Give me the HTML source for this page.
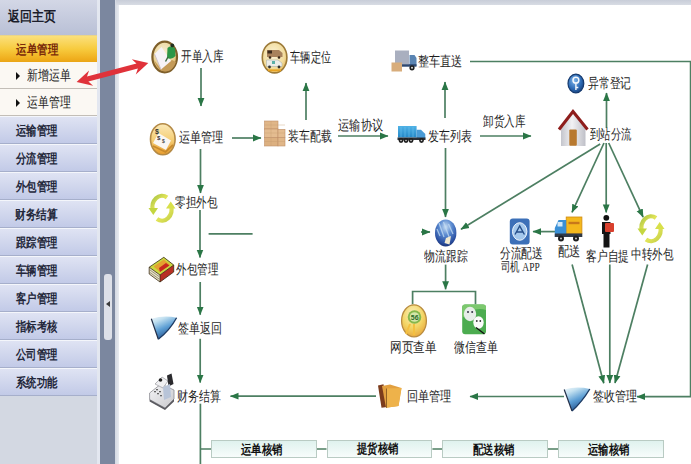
<!DOCTYPE html>
<html><head><meta charset="utf-8">
<style>
*{margin:0;padding:0;box-sizing:border-box}
html,body{width:691px;height:464px;overflow:hidden;background:#fff;font-family:"Liberation Sans",sans-serif}
#side{position:absolute;left:0;top:0;width:100px;height:464px;background:#d3d8e2}
#home{position:absolute;left:0;top:0;width:97px;height:35px;background:linear-gradient(#d3d7e6,#b9c0d6)}
#hdr{position:absolute;left:0;top:34.5px;width:98px;height:27.5px;border-top:1px solid #e9d48a;background:linear-gradient(#fbe07c,#f7cb3e 50%,#f0b020 85%,#eaa516)}
.sub{position:absolute;left:0;width:97px;height:27px;background:#fbf8f3;border-bottom:1.5px solid #c3beb7}
.sub i{position:absolute;left:15.5px;top:10px;width:0;height:0;border-left:4px solid #111;border-top:4px solid transparent;border-bottom:4px solid transparent}
.it{position:absolute;left:0;width:97px;height:28px;background:linear-gradient(#dfe3f3,#c2cae7);border-top:1px solid #f4f6fb;border-bottom:1px solid #a6afcb}
#sline{position:absolute;left:97px;top:0;width:3px;height:464px;background:#e3e7f0}
#band{position:absolute;left:100px;top:0;width:15px;height:464px;background:#7b879f}
#band2{position:absolute;left:114.5px;top:0;width:4.5px;height:464px;background:linear-gradient(90deg,#d3d8e2,#e8ebf0)}
#handle{position:absolute;left:104px;top:274px;width:8px;height:66px;background:#dde0e8;border-radius:3px}
#handle i{position:absolute;left:2px;top:27px;border-right:4px solid #3a3a3a;border-top:3.5px solid transparent;border-bottom:3.5px solid transparent}
#topbar{position:absolute;left:116px;top:0;width:575px;height:4.5px;background:linear-gradient(#c8cdd8,#d8dce4)}
#content{position:absolute;left:119px;top:4.5px;width:572px;height:460px;background:#fff}
.box{position:absolute;top:440.4px;width:105.6px;height:17.3px;border:1px solid #b9cbc3;background:linear-gradient(#dff2ee,#f7fcfb)}
.t{position:absolute;line-height:1;white-space:nowrap;transform-origin:0 0}
</style></head><body>
<div id="side">
<div id="home"></div>
<div id="hdr"></div>
<div class="sub" style="top:62px"><i></i></div>
<div class="sub" style="top:89px"><i></i></div>
<div class="it" style="top:116px"></div>
<div class="it" style="top:144px"></div>
<div class="it" style="top:172px"></div>
<div class="it" style="top:200px"></div>
<div class="it" style="top:228px"></div>
<div class="it" style="top:256px"></div>
<div class="it" style="top:284px"></div>
<div class="it" style="top:312px"></div>
<div class="it" style="top:340px"></div>
<div class="it" style="top:368px"></div>
</div>
<div id="sline"></div>
<div id="band"></div>
<div id="band2"></div>
<div id="handle"><i></i></div>
<div id="topbar"></div>
<div id="content"></div>
<svg style="position:absolute;left:0;top:0" width="691" height="464">
<defs><marker id="ah" markerWidth="9" markerHeight="8" refX="8" refY="4" orient="auto" markerUnits="userSpaceOnUse"><path d="M0,0.6 L8.5,4 L0,7.4 z" fill="#2a7646"/></marker></defs>
<g stroke="#4d7f62" stroke-width="1.7" fill="none">
<path d="M201,68 V106" marker-end="url(#ah)"/>
<path d="M232,138 H261" marker-end="url(#ah)"/>
<path d="M306,120 V83" marker-end="url(#ah)"/>
<path d="M338,136 H388" marker-end="url(#ah)"/>
<path d="M445,118 V82" marker-end="url(#ah)"/>
<path d="M480,136 H531" marker-end="url(#ah)"/>
<path d="M470,61.5 H690.6 V396.7 H637" marker-end="url(#ah)"/>
<path d="M606.5,128 V93" marker-end="url(#ah)"/>
<path d="M445.5,148 V217" marker-end="url(#ah)"/>
<path d="M600.2,144 L461,229.3" marker-end="url(#ah)"/>
<path d="M604,143 L572,212.4" marker-end="url(#ah)"/>
<path d="M606.2,143 V212.4" marker-end="url(#ah)"/>
<path d="M608.7,143 L643.1,217.1" marker-end="url(#ah)"/>
<path d="M555,231.6 H533" marker-end="url(#ah)"/>
<path d="M421,232 H430" marker-end="url(#ah)"/>
<path d="M445.6,264.6 V289.3" marker-end="url(#ah)"/>
<path d="M412.6,304.3 V291.5 H475.5 V304.3"/>
<path d="M572.1,264.5 L603.8,383.3" marker-end="url(#ah)"/>
<path d="M609.8,264.5 V383" marker-end="url(#ah)"/>
<path d="M647.6,264.5 L615,383" marker-end="url(#ah)"/>
<path d="M564,396.5 H470" marker-end="url(#ah)"/>
<path d="M376,396.2 H230.5" marker-end="url(#ah)"/>
<path d="M200.5,149 V193" marker-end="url(#ah)"/>
<path d="M200,210 V257.6" marker-end="url(#ah)"/>
<path d="M208.6,233.8 H252.6"/>
<path d="M200.2,282 V314.7" marker-end="url(#ah)"/>
<path d="M200.2,338.8 V382.6" marker-end="url(#ah)"/>
<path d="M200.4,403.7 V464"/>
<path d="M200.4,449 H211.3 M316.9,449 H326.5 M432.4,449 H442.3 M548,449 H558"/>
</g></svg>
<svg style="position:absolute;left:0;top:0" width="691" height="464">
<defs>
<radialGradient id="gold" cx="45%" cy="35%" r="65%"><stop offset="0" stop-color="#f8efd6"/><stop offset="0.65" stop-color="#ecd69a"/><stop offset="1" stop-color="#d6a854"/></radialGradient>
<radialGradient id="gold2" cx="45%" cy="40%" r="65%"><stop offset="0" stop-color="#fbf3d8"/><stop offset="0.7" stop-color="#f2dc9c"/><stop offset="1" stop-color="#e2b04c"/></radialGradient>
<linearGradient id="orng" x1="0" y1="0" x2="0" y2="1"><stop offset="0" stop-color="#fbe9b8"/><stop offset="0.5" stop-color="#f5cf78"/><stop offset="1" stop-color="#e89c2c"/></linearGradient>
<radialGradient id="globe" cx="50%" cy="28%" r="75%"><stop offset="0" stop-color="#c6dcf2"/><stop offset="0.4" stop-color="#5a8ad0"/><stop offset="0.8" stop-color="#2a4fa0"/><stop offset="1" stop-color="#1a3070"/></radialGradient>
<radialGradient id="bluek" cx="40%" cy="35%" r="70%"><stop offset="0" stop-color="#7fb6ea"/><stop offset="0.6" stop-color="#2f6db8"/><stop offset="1" stop-color="#173f7a"/></radialGradient>
<linearGradient id="funnel" x1="0" y1="0" x2="0.5" y2="1"><stop offset="0" stop-color="#f2f8fb"/><stop offset="0.25" stop-color="#c2e0f0"/><stop offset="0.6" stop-color="#5c9ed4"/><stop offset="1" stop-color="#24508a"/></linearGradient>
<linearGradient id="cont" x1="0" y1="0" x2="0" y2="1"><stop offset="0" stop-color="#4fb2e6"/><stop offset="1" stop-color="#2588c8"/></linearGradient>
<linearGradient id="wall" x1="0" y1="0" x2="1" y2="0"><stop offset="0" stop-color="#c4c5cc"/><stop offset="0.45" stop-color="#f2f2f4"/><stop offset="1" stop-color="#bfc0c8"/></linearGradient>
<radialGradient id="web" cx="45%" cy="30%" r="75%"><stop offset="0" stop-color="#fbf0c0"/><stop offset="0.55" stop-color="#f3d666"/><stop offset="1" stop-color="#e8a438"/></radialGradient>
<linearGradient id="rec" x1="0" y1="0" x2="1" y2="1"><stop offset="0" stop-color="#a8c444"/><stop offset="0.5" stop-color="#e2e458"/><stop offset="1" stop-color="#c4d048"/></linearGradient>
<linearGradient id="reg" x1="0" y1="0" x2="1" y2="1"><stop offset="0" stop-color="#f6f6f8"/><stop offset="1" stop-color="#c8c8cc"/></linearGradient>
</defs>

<!-- 开单入库 -->
<ellipse cx="164.7" cy="57" rx="12.3" ry="15.3" fill="url(#gold)" stroke="#7f5f2a" stroke-width="2.2"/>
<path d="M154,60 Q158,72 166,71.5 Q173,71 176,62 L172,60 L160,68 Z" fill="#c49a58"/>
<path d="M154.5,54 L161.5,47 L171,61 L161,69.5 Z" fill="#f6f2f6"/>
<path d="M154.5,54 L161,69.5" stroke="#cfc2c8" stroke-width="1"/>
<path d="M167.5,48 Q171,45 175,48.5 L175.5,56 Q172,60 167,58 Z" fill="#2c9647"/>
<circle cx="172.3" cy="45.4" r="1.9" fill="#22301f"/>
<path d="M168,57 L165.5,61.5" stroke="#3d6a40" stroke-width="1.5"/>

<!-- 车辆定位 -->
<ellipse cx="274.6" cy="57.5" rx="12.3" ry="15.4" fill="url(#gold2)" stroke="#9c7a38" stroke-width="1.6"/>
<path d="M267,50 H279 L282.5,53 V57 H267 Z" fill="#a8825c"/>
<rect x="267.5" y="50.5" width="4.5" height="3" fill="#3a2a1c"/>
<circle cx="270" cy="57.5" r="1.3" fill="#3a2a1c"/><circle cx="279" cy="57.5" r="1.3" fill="#3a2a1c"/>
<path d="M266.5,60 H278 L282,63 V66.5 H266.5 Z" fill="#ecece8" stroke="#9ea8a6" stroke-width="0.5"/>
<rect x="272" y="61" width="3" height="3" fill="#5ab0a8"/>
<circle cx="269.5" cy="67" r="1.4" fill="#333"/><circle cx="279" cy="67" r="1.4" fill="#333"/>
<path d="M268,70.3 H281" stroke="#e8a322" stroke-width="1.8"/>

<!-- 整车直送 -->
<rect x="395" y="50.5" width="14" height="13.5" fill="#a9afbf"/>
<rect x="391.5" y="62.5" width="10.5" height="9" fill="#d8ad7c"/>
<path d="M409.5,55 H414.5 L416.5,58 V66 H409.5 Z" fill="#5a84b2"/>
<rect x="402" y="64.2" width="14.5" height="2.5" fill="#2e4870"/>
<circle cx="412" cy="67.8" r="2.6" fill="#1e1e1e"/><circle cx="412" cy="67.8" r="1" fill="#ddd"/>

<!-- 异常登记 -->
<ellipse cx="575.9" cy="83.5" rx="7.9" ry="9.4" fill="url(#bluek)" stroke="#163a6e" stroke-width="1.2"/>
<circle cx="575.9" cy="80.2" r="2.9" fill="none" stroke="#f4f8fc" stroke-width="1.5"/>
<path d="M575.9,83 V90 M575.9,87.5 H578.3" stroke="#f4f8fc" stroke-width="1.4"/>

<!-- 运单管理 -->
<ellipse cx="162.8" cy="139.3" rx="12.3" ry="15.5" fill="url(#orng)" stroke="#b48a46" stroke-width="1.6"/>
<path d="M153,143 L158.5,133 L171,140.5 L166,150 Z" fill="#faf6f2"/>
<path d="M153,146 L165.5,152 L173,145" stroke="#c98a2c" stroke-width="1.8" fill="none"/>
<text x="155" y="134" font-family="Liberation Sans" font-size="7" font-weight="bold" fill="#333">$</text><text x="157" y="140" font-family="Liberation Sans" font-size="6" font-weight="bold" fill="#333">$</text><text x="162" y="143" font-family="Liberation Sans" font-size="5" font-weight="bold" fill="#444">$</text>

<!-- 装车配载 -->
<g stroke="#c09068" stroke-width="0.6">
<rect x="264.5" y="121" width="13.5" height="8" fill="#e0b688"/>
<rect x="264.5" y="129" width="13.5" height="8.5" fill="#e4bc90"/>
<rect x="264.5" y="137.5" width="13.5" height="8.5" fill="#dcb080"/>
<rect x="278" y="129.3" width="7" height="8.2" fill="#e4bc90"/>
<rect x="278" y="137.5" width="7" height="8.5" fill="#e0b688"/>
</g>
<path d="M271,121 V146 M264.5,125 H285 M264.5,133 H285 M264.5,141.5 H285" stroke="#c89c70" stroke-width="0.4"/>

<!-- 发车列表 -->
<rect x="398" y="126" width="18.6" height="11.5" fill="url(#cont)"/>
<path d="M401,127 V137 M405,127 V137 M409,127 V137 M413,127 V137" stroke="#6cc4f0" stroke-width="0.6"/>
<path d="M416.6,129.7 H421 L425.3,134 V138.5 H416.6 Z" fill="#4a9bd6"/>
<rect x="397.5" y="137.5" width="28" height="2.5" fill="#2a2f38"/>
<g fill="#1f1f1f"><circle cx="401" cy="140.5" r="2.4"/><circle cx="406" cy="140.5" r="2.4"/><circle cx="411" cy="140.5" r="2.4"/><circle cx="421.5" cy="140.5" r="2.4"/></g>
<g fill="#d0d0d0"><circle cx="401" cy="140.5" r="0.8"/><circle cx="406" cy="140.5" r="0.8"/><circle cx="411" cy="140.5" r="0.8"/><circle cx="421.5" cy="140.5" r="0.8"/></g>

<!-- 到站分流 house -->
<path d="M561,127 L573,114 L585.5,127 V146 H561 Z" fill="url(#wall)"/>
<path d="M559,129.5 L573,111.5 L587.5,129.5" fill="none" stroke="#8e1d1c" stroke-width="3"/>
<rect x="569.3" y="129.5" width="7.5" height="16.2" rx="1" fill="#b8792f"/>

<!-- 零担外包 -->
<g fill="none" stroke="url(#rec)" stroke-width="4.2">
<path d="M167,197.5 A9.5,11.5 0 0 0 153,211"/>
<path d="M157,219 A9.5,11.5 0 0 0 171,205.5"/>
</g>
<path d="M148.5,208 L158,208 L153.3,215 Z" fill="#c4d640"/>
<path d="M175.5,208.5 L166,208.5 L170.7,201.5 Z" fill="#d8e04a"/>

<!-- 中转外包 -->
<g fill="none" stroke="url(#rec)" stroke-width="4.2">
<path d="M656,218 A9.5,11.5 0 0 0 642,231.5"/>
<path d="M646,239.5 A9.5,11.5 0 0 0 660,226"/>
</g>
<path d="M637.5,228.5 L647,228.5 L642.3,235.5 Z" fill="#c4d640"/>
<path d="M664.5,229 L655,229 L659.7,222 Z" fill="#d8e04a"/>

<!-- 物流跟踪 globe -->
<ellipse cx="445.7" cy="232.9" rx="10.7" ry="13.5" fill="url(#globe)"/>
<path d="M439,223 L444,237 M443.5,222 L449.5,238 M448.5,224 L453,234 M437,229 L440,236" stroke="#c2dcf4" stroke-width="1.3" opacity="0.75"/>
<path d="M446,238 L451,236 L449.5,244.5 L444.5,243 Z" fill="#f2ead0"/>

<!-- APP -->
<rect x="509.8" y="218.6" width="19.8" height="25.8" rx="3" fill="#3c70b8"/>
<ellipse cx="519.7" cy="231.5" rx="7.2" ry="8.8" fill="#a4c8ec" stroke="#eef5fc" stroke-width="1"/>
<path d="M515,234.5 L519.7,226 L524.4,234.5 M516,232 H523.5" stroke="#244e8a" stroke-width="1.4" fill="none"/>

<!-- 配送 truck -->
<rect x="566.2" y="217" width="15.7" height="16.6" fill="#f4b81c" stroke="#d08a10" stroke-width="0.8"/>
<path d="M568.5,223 H579.5" stroke="#c8781a" stroke-width="2.4"/>
<path d="M554.8,228 L558.5,220 H566.2 V237 H554.8 Z" fill="#3a90d6"/>
<rect x="557.5" y="222" width="5" height="4.5" fill="#d2e8f8"/>
<rect x="554.8" y="233.5" width="27.5" height="3.5" fill="#303a48"/>
<circle cx="561" cy="238.5" r="3" fill="#1e1e1e"/><circle cx="576" cy="238.5" r="3" fill="#1e1e1e"/>
<circle cx="561" cy="238.5" r="1" fill="#ccc"/><circle cx="576" cy="238.5" r="1" fill="#ccc"/>

<!-- 客户自提 person -->
<circle cx="606.3" cy="217.8" r="2.9" fill="#111"/>
<path d="M602,222 H610.5 V234 H609.5 V247.6 H603.5 V234 H602 Z" fill="#141414"/>
<rect x="605" y="223" width="9" height="9" rx="1" fill="#d8402e"/>

<!-- 外包管理 box -->
<path d="M149.2,267.2 L163.8,257.3 L173.7,265 L160,275 Z" fill="#cad83e"/>
<path d="M153.5,266.5 L163.8,259.5 L170,264.8 L160,272 Z" fill="#e4a030"/>
<path d="M159,268 L166,263 L169.5,265.5 L160,272 Z" fill="#c8281e"/>
<path d="M149.2,267.2 L160,275 L160,282 L149.2,274 Z" fill="#e6e2c8"/>
<path d="M150,270 L159,276.5 M150,272.5 L159,279" stroke="#6a6040" stroke-width="0.6"/>
<path d="M160,275 L173.7,265 L173.7,272 L160,282 Z" fill="#b83024"/>
<path d="M149.2,267.2 L163.8,257.3 L173.7,265 L160,275 Z M160,275 V282 M149.2,267.2 V274 L160,282 L173.7,272 V265" stroke="#3a2a10" stroke-width="0.8" fill="none"/>

<!-- 签单返回 funnel -->
<path d="M151.3,318.8 Q164,315 176.6,317.7 Q170,330 158.3,339.3 Z" fill="url(#funnel)"/>
<path d="M151.3,318.8 L158.3,339.3" stroke="#232f48" stroke-width="1.2"/>
<path d="M176.6,317.7 Q170,330 158.3,339.3" stroke="#1d3a62" stroke-width="1.3" fill="none"/>

<!-- 财务结算 cash register -->
<path d="M149.6,393 L161,384 L174,390 L174,399 L165,408 L149.6,399.5 Z" fill="url(#reg)" stroke="#8a8a90" stroke-width="0.8"/>
<path d="M149.6,399.5 L165,408 L174,399 L174,401.5 L165,410 L149.6,401.5 Z" fill="#5a5a60"/>
<path d="M155,384 L162,377 L168,381 L163,388 Z" fill="#f0f0f2" stroke="#8a8a90" stroke-width="0.6"/>
<circle cx="160.5" cy="380" r="1.8" fill="#222"/>
<path d="M167,375.5 L171.5,373.5 L173.5,384 L168.5,386.5 Z" fill="#2a2a2e"/>
<path d="M163,387 L170,384 L171,397 L164,400 Z" fill="#b8c4d8"/>
<g fill="#666"><rect x="154" y="391" width="2" height="1.3"/><rect x="157" y="393" width="2" height="1.3"/><rect x="160" y="395" width="2" height="1.3"/><rect x="156" y="389" width="2" height="1.3"/><rect x="159" y="391" width="2" height="1.3"/></g>

<!-- 网页查单 -->
<ellipse cx="414" cy="320.8" rx="12.4" ry="16" fill="url(#web)" stroke="#b98c40" stroke-width="1.3"/>
<circle cx="414.5" cy="317" r="6.8" fill="#86b84c"/>
<circle cx="414.5" cy="317" r="4.8" fill="#d4e6a8"/>
<text x="410.8" y="319.8" font-family="Liberation Sans" font-size="7" fill="#2a6a2a" font-weight="bold">56</text>
<path d="M410,324 L406,334 M414,324 L414,335" stroke="#f4c040" stroke-width="2"/>

<!-- 微信查单 -->
<rect x="462.2" y="304.5" width="23.8" height="29.7" rx="3" fill="#4cac50"/>
<path d="M462.2,307.5 Q462.2,304.5 465,304.5 H483 Q486,304.5 486,307.5 V310 Q474,306 462.2,318 Z" fill="#7cc86e"/>
<ellipse cx="470" cy="314" rx="6.2" ry="7.2" fill="#e6ede8"/>
<ellipse cx="478.5" cy="322.5" rx="5.2" ry="6.2" fill="#fbfbfb"/>
<path d="M476,327.5 L484.5,334" stroke="#111" stroke-width="1.3"/>
<circle cx="468" cy="312" r="1" fill="#334"/><circle cx="472.2" cy="312" r="1" fill="#334"/>
<circle cx="476.8" cy="321" r="0.9" fill="#333"/><circle cx="480.3" cy="321" r="0.9" fill="#333"/>

<!-- 回单管理 folders -->
<path d="M378,385.5 L383.5,384.2 L387,407 L381.5,407.8 Z" fill="#7c3c1c"/>
<path d="M382,386 L390,384.5 L401.5,388 L398.5,406 L386,407.8 Z" fill="#e2a040"/>
<path d="M386.5,388.5 L401.5,388 L398.5,406 L386,407.8 Z" fill="#eeb24a"/>
<path d="M386.5,388.5 V407.8" stroke="#8a5a20" stroke-width="0.9"/>

<!-- 签收管理 funnel -->
<path d="M564.2,389.5 Q577,386 589.8,389 Q582,402 572,411 Z" fill="url(#funnel)"/>
<path d="M564.2,389.5 L572,411" stroke="#232f48" stroke-width="1.2"/>
<path d="M589.8,389 Q582,402 572,411" stroke="#1d3a62" stroke-width="1.4" fill="none"/>

<!-- red double arrow -->
<path d="M76.6,81.9 L93.1,85.8 L88.4,81.6 L137.9,68.6 L135.8,74.6 L148.3,63.1 L131.8,59.2 L136.5,63.4 L87.0,76.4 L89.1,70.4 Z" fill="#e0323a"/>
</svg>

<div class="box" style="left:211.3px"></div>
<div class="box" style="left:326.5px"></div>
<div class="box" style="left:442.3px"></div>
<div class="box" style="left:558px"></div>

<div class="t" style="left:181.1px;top:49.8px;font-size:13.5px;transform:scaleX(0.761);font-family:'Liberation Serif',serif;color:#1e1e1e">开单入库</div>
<div class="t" style="left:290.1px;top:51.3px;font-size:13.5px;transform:scaleX(0.734);font-family:'Liberation Serif',serif;color:#1e1e1e">车辆定位</div>
<div class="t" style="left:418.2px;top:54.5px;font-size:13.5px;transform:scaleX(0.796);font-family:'Liberation Serif',serif;color:#1e1e1e">整车直送</div>
<div class="t" style="left:588.0px;top:76.5px;font-size:13.5px;transform:scaleX(0.773);font-family:'Liberation Serif',serif;color:#1e1e1e">异常登记</div>
<div class="t" style="left:179.2px;top:131.0px;font-size:13.5px;transform:scaleX(0.796);font-family:'Liberation Serif',serif;color:#1e1e1e">运单管理</div>
<div class="t" style="left:287.9px;top:130.0px;font-size:13.5px;transform:scaleX(0.778);font-family:'Liberation Serif',serif;color:#1e1e1e">装车配载</div>
<div class="t" style="left:338.2px;top:119.2px;font-size:13.5px;transform:scaleX(0.807);font-family:'Liberation Serif',serif;color:#1e1e1e">运输协议</div>
<div class="t" style="left:428.0px;top:130.0px;font-size:13.5px;transform:scaleX(0.782);font-family:'Liberation Serif',serif;color:#1e1e1e">发车列表</div>
<div class="t" style="left:483.0px;top:114.8px;font-size:13.5px;transform:scaleX(0.755);font-family:'Liberation Serif',serif;color:#1e1e1e">卸货入库</div>
<div class="t" style="left:590.4px;top:128.2px;font-size:13.5px;transform:scaleX(0.739);font-family:'Liberation Serif',serif;color:#1e1e1e">到站分流</div>
<div class="t" style="left:175.2px;top:196.2px;font-size:13.5px;transform:scaleX(0.756);font-family:'Liberation Serif',serif;color:#1e1e1e">零担外包</div>
<div class="t" style="left:424.1px;top:249.5px;font-size:13.5px;transform:scaleX(0.775);font-family:'Liberation Serif',serif;color:#1e1e1e">物流跟踪</div>
<div class="t" style="left:500.2px;top:247.1px;font-size:13.5px;transform:scaleX(0.767);font-family:'Liberation Serif',serif;color:#1e1e1e">分流配送</div>
<div class="t" style="left:501.0px;top:259.7px;font-size:13px;transform:scaleX(0.728);font-family:'Liberation Serif',serif;color:#1e1e1e">司机 APP</div>
<div class="t" style="left:558.3px;top:245.2px;font-size:13.5px;transform:scaleX(0.804);font-family:'Liberation Serif',serif;color:#1e1e1e">配送</div>
<div class="t" style="left:585.7px;top:250.0px;font-size:13.5px;transform:scaleX(0.769);font-family:'Liberation Serif',serif;color:#1e1e1e">客户自提</div>
<div class="t" style="left:631.2px;top:248.2px;font-size:13.5px;transform:scaleX(0.756);font-family:'Liberation Serif',serif;color:#1e1e1e">中转外包</div>
<div class="t" style="left:176.2px;top:262.8px;font-size:13.5px;transform:scaleX(0.753);font-family:'Liberation Serif',serif;color:#1e1e1e">外包管理</div>
<div class="t" style="left:177.8px;top:321.8px;font-size:13.5px;transform:scaleX(0.783);font-family:'Liberation Serif',serif;color:#1e1e1e">签单返回</div>
<div class="t" style="left:390.2px;top:341.2px;font-size:13.5px;transform:scaleX(0.833);font-family:'Liberation Serif',serif;color:#1e1e1e">网页查单</div>
<div class="t" style="left:454.0px;top:341.2px;font-size:13.5px;transform:scaleX(0.782);font-family:'Liberation Serif',serif;color:#1e1e1e">微信查单</div>
<div class="t" style="left:176.9px;top:389.6px;font-size:13.5px;transform:scaleX(0.783);font-family:'Liberation Serif',serif;color:#1e1e1e">财务结算</div>
<div class="t" style="left:407.2px;top:389.8px;font-size:13.5px;transform:scaleX(0.796);font-family:'Liberation Serif',serif;color:#1e1e1e">回单管理</div>
<div class="t" style="left:593.0px;top:390.2px;font-size:13.5px;transform:scaleX(0.791);font-family:'Liberation Serif',serif;color:#1e1e1e">签收管理</div>
<div class="t" style="left:241.0px;top:442.6px;font-size:13px;transform:scaleX(0.8);font-family:'Liberation Serif',serif;color:#111;font-weight:bold">运单核销</div>
<div class="t" style="left:357.0px;top:442.1px;font-size:13px;transform:scaleX(0.8);font-family:'Liberation Serif',serif;color:#111;font-weight:bold">提货核销</div>
<div class="t" style="left:472.5px;top:442.6px;font-size:13px;transform:scaleX(0.8);font-family:'Liberation Serif',serif;color:#111;font-weight:bold">配送核销</div>
<div class="t" style="left:588.0px;top:442.6px;font-size:13px;transform:scaleX(0.8);font-family:'Liberation Serif',serif;color:#111;font-weight:bold">运输核销</div>
<div class="t" style="left:8.0px;top:9.3px;font-size:14px;transform:scaleX(0.852);font-family:'Liberation Sans',sans-serif;color:#1b1d2b;font-weight:bold">返回主页</div>
<div class="t" style="left:16.0px;top:42.8px;font-size:13px;transform:scaleX(0.808);font-family:'Liberation Sans',sans-serif;color:#7a2a0a;font-weight:bold">运单管理</div>
<div class="t" style="left:27.2px;top:68.8px;font-size:13.5px;transform:scaleX(0.778);font-family:'Liberation Sans',sans-serif;color:#1a1a1a">新增运单</div>
<div class="t" style="left:27.2px;top:96.0px;font-size:13.5px;transform:scaleX(0.778);font-family:'Liberation Sans',sans-serif;color:#1a1a1a">运单管理</div>
<div class="t" style="left:16.2px;top:124.4px;font-size:13px;transform:scaleX(0.8);font-family:'Liberation Sans',sans-serif;color:#23273a;font-weight:bold">运输管理</div>
<div class="t" style="left:16.2px;top:152.4px;font-size:13px;transform:scaleX(0.8);font-family:'Liberation Sans',sans-serif;color:#23273a;font-weight:bold">分流管理</div>
<div class="t" style="left:16.2px;top:180.4px;font-size:13px;transform:scaleX(0.8);font-family:'Liberation Sans',sans-serif;color:#23273a;font-weight:bold">外包管理</div>
<div class="t" style="left:15.4px;top:208.4px;font-size:13px;transform:scaleX(0.816);font-family:'Liberation Sans',sans-serif;color:#23273a;font-weight:bold">财务结算</div>
<div class="t" style="left:16.2px;top:236.4px;font-size:13px;transform:scaleX(0.8);font-family:'Liberation Sans',sans-serif;color:#23273a;font-weight:bold">跟踪管理</div>
<div class="t" style="left:16.2px;top:264.4px;font-size:13px;transform:scaleX(0.8);font-family:'Liberation Sans',sans-serif;color:#23273a;font-weight:bold">车辆管理</div>
<div class="t" style="left:16.2px;top:292.4px;font-size:13px;transform:scaleX(0.8);font-family:'Liberation Sans',sans-serif;color:#23273a;font-weight:bold">客户管理</div>
<div class="t" style="left:16.2px;top:320.4px;font-size:13px;transform:scaleX(0.8);font-family:'Liberation Sans',sans-serif;color:#23273a;font-weight:bold">指标考核</div>
<div class="t" style="left:16.2px;top:348.4px;font-size:13px;transform:scaleX(0.8);font-family:'Liberation Sans',sans-serif;color:#23273a;font-weight:bold">公司管理</div>
<div class="t" style="left:16.2px;top:376.4px;font-size:13px;transform:scaleX(0.8);font-family:'Liberation Sans',sans-serif;color:#23273a;font-weight:bold">系统功能</div>
</body></html>
